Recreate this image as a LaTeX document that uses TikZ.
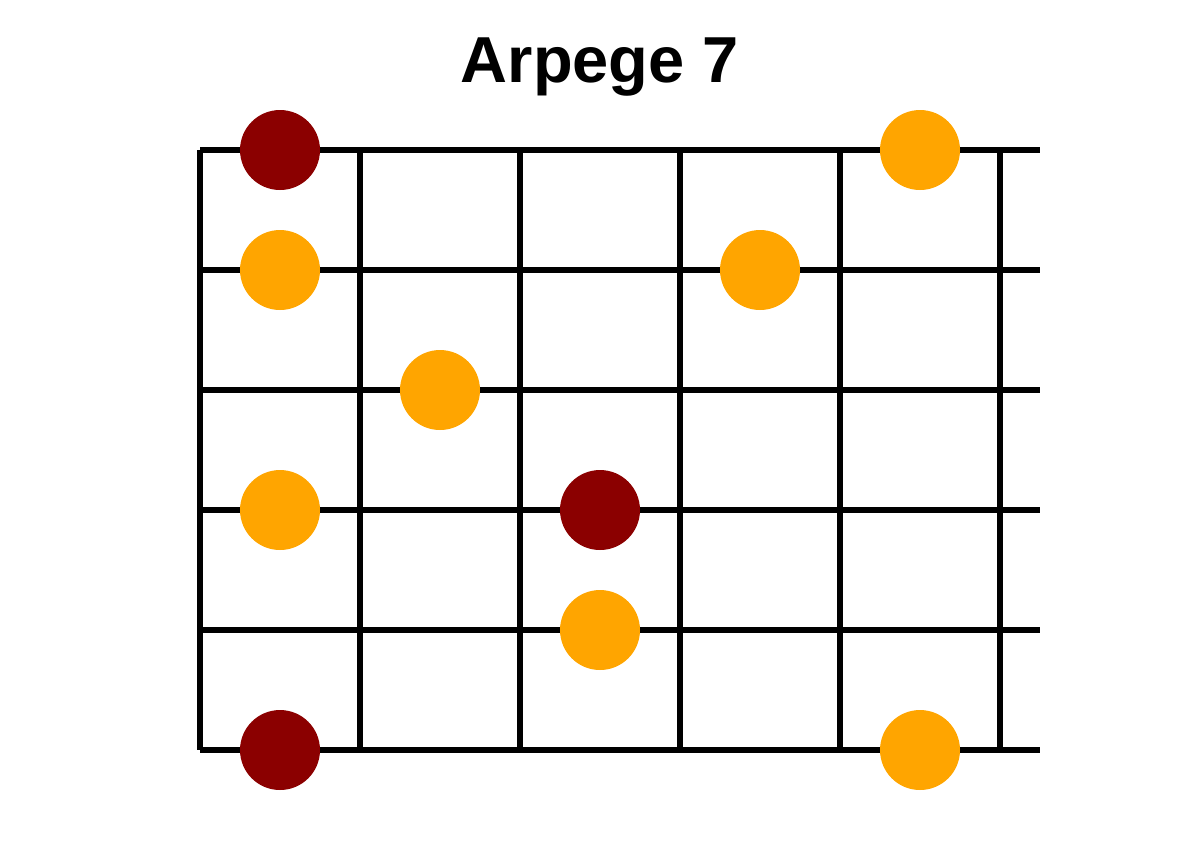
\documentclass[tikz,border=0pt]{standalone}
\usepackage{fontspec}
\setmainfont{Liberation Sans}
\definecolor{rootred}{HTML}{8B0000}
\definecolor{noteorange}{HTML}{FFA500}
\tikzset{
  fret/.style={line width=3.1pt},
  root/.style={circle, fill=rootred, inner sep=0pt, minimum size=1.6cm},
  note/.style={circle, fill=noteorange, inner sep=0pt, minimum size=1.6cm}
}
\begin{document}
\begin{tikzpicture}[x=0.02cm, y=-0.02cm]
      \useasboundingbox (0,0) rectangle (1200,850);
      \node[anchor=base, font=\bfseries\fontsize{37}{44}\selectfont] (title) at (600,82) {Arpege 7};
      % strings
      \begin{scope}[fret]
        \draw (200,150) -- (1040,150);
        \draw (200,270) -- (1040,270);
        \draw (200,390) -- (1040,390);
        \draw (200,510) -- (1040,510);
        \draw (200,630) -- (1040,630);
        \draw (200,750) -- (1040,750);
      % frets
        \draw (200,150) -- (200,750);
        \draw (360,150) -- (360,750);
        \draw (520,150) -- (520,750);
        \draw (680,150) -- (680,750);
        \draw (840,150) -- (840,750);
        \draw (1000,150) -- (1000,750);
      \end{scope}
      % notes
      \node[root] (r1) at (280,150) {};
      \node[note] (n1) at (920,150) {};
      \node[note] (n2) at (280,270) {};
      \node[note] (n3) at (760,270) {};
      \node[note] (n4) at (440,390) {};
      \node[note] (n5) at (280,510) {};
      \node[root] (r2) at (600,510) {};
      \node[note] (n6) at (600,630) {};
      \node[root] (r3) at (280,750) {};
      \node[note] (n7) at (920,750) {};
    \end{tikzpicture}
\end{document}
